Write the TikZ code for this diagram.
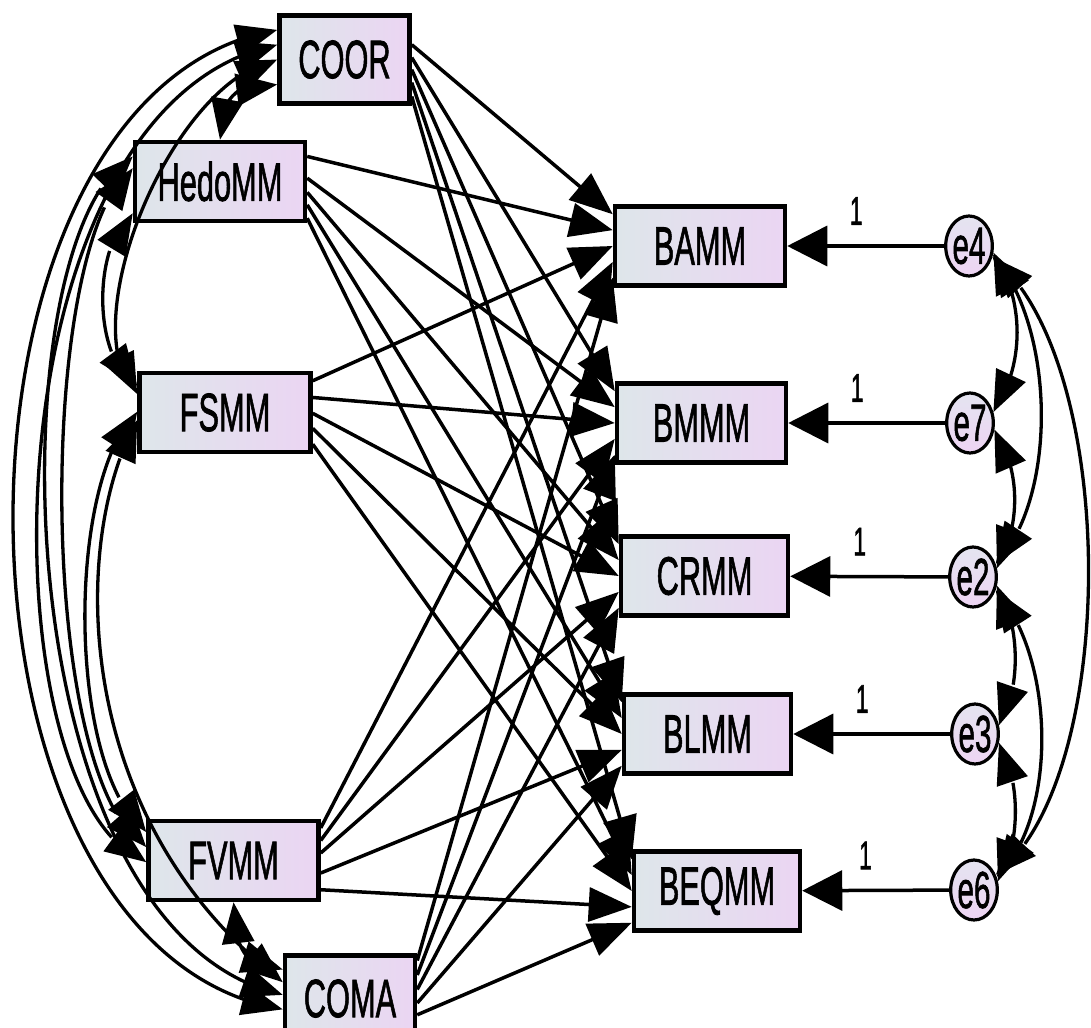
\documentclass[tikz,border=0pt]{standalone}
\usepackage{fontspec}
\setmainfont{Liberation Sans}
\newfontfamily\labelfont[FakeBold=1.6]{Liberation Sans}
\usepackage{graphicx}
\usetikzlibrary{arrows.meta,calc,bending,shapes.geometric}

\definecolor{boxL}{RGB}{222,230,234}
\definecolor{boxR}{RGB}{235,213,243}
\definecolor{errT}{RGB}{228,228,240}
\definecolor{errB}{RGB}{238,212,243}

% condensed lettering used throughout the diagram
\newcommand{\narrowtxt}[1]{\scalebox{0.57}[1]{#1}}
% points along the left and right edges of a box
\newcommand{\lft}[2]{($(#1.north west)!#2!(#1.south west)$)}
\newcommand{\rgt}[2]{($(#1.north east)!#2!(#1.south east)$)}

\begin{document}
\begin{tikzpicture}[x=1pt, y=-1pt,
  box/.style={rectangle, draw=black, line width=4.5pt, left color=boxL, right color=boxR,
    minimum width=170pt, minimum height=79pt, inner sep=0pt,
    font=\labelfont\fontsize{54}{60}\selectfont},
  errnode/.style={ellipse, draw=black, line width=3.2pt, top color=errT, bottom color=errB,
    minimum width=32pt, minimum height=60pt, inner sep=0pt,
    font=\labelfont\fontsize{52}{56}\selectfont},
  reg/.style={line width=3.5pt, -{Triangle[length=43pt,width=34pt]}},
  errpath/.style={line width=3.5pt, -{Triangle[length=40pt,width=40pt]}},
  cov/.style={line width=3.3pt, {Triangle[length=41pt,width=32pt]}-{Triangle[length=41pt,width=32pt]}},
  wlabel/.style={font=\labelfont\fontsize{40}{44}\selectfont, yshift=35pt, inner sep=0pt}
]
\fill[white] (0,0) rectangle (1091,1027);
\useasboundingbox (0,0) rectangle (1091,1027);

% exogenous observed variables
\node[box, minimum width=130pt, minimum height=88pt] (COOR) at (344.5,59.5) {\narrowtxt{COOR}};
\node[box] (HedoMM) at (220,181.5) {\narrowtxt{HedoMM}};
\node[box, minimum width=171pt] (FSMM) at (225,412.5) {\narrowtxt{FSMM}};
\node[box, minimum width=170pt] (FVMM) at (233.5,860.5) {\narrowtxt{FVMM}};
\node[box, minimum width=130pt, minimum height=86pt] (COMA) at (350,998.5) {\narrowtxt{COMA}};

% endogenous observed variables
\node[box] (BAMM) at (700,246) {\narrowtxt{BAMM}};
\node[box, minimum width=169pt] (BMMM) at (701.5,423) {\narrowtxt{BMMM}};
\node[box, minimum width=167pt] (CRMM) at (704.5,576) {\narrowtxt{CRMM}};
\node[box, minimum width=167pt] (BLMM) at (707.5,734) {\narrowtxt{BLMM}};
\node[box, minimum width=166pt] (BEQMM) at (717,891) {\narrowtxt{BEQMM}};

% error terms
\node[errnode] (e4) at (969,246) {\narrowtxt{e4}};
\node[errnode] (e7) at (970,423) {\narrowtxt{e7}};
\node[errnode] (e2) at (973,577) {\narrowtxt{e2}};
\node[errnode] (e3) at (975,734) {\narrowtxt{e3}};
\node[errnode] (e6) at (974,890) {\narrowtxt{e6}};

% regression paths
\draw[reg] \rgt{COOR}{.34} -- \lft{BAMM}{.12};
\draw[reg] \rgt{COOR}{.48} -- \lft{BMMM}{.12};
\draw[reg] \rgt{COOR}{.61} -- \lft{CRMM}{.12};
\draw[reg] \rgt{COOR}{.75} -- \lft{BLMM}{.12};
\draw[reg] \rgt{COOR}{.90} -- \lft{BEQMM}{.12};

\draw[reg] \rgt{HedoMM}{.20} -- \lft{BAMM}{.31};
\draw[reg] \rgt{HedoMM}{.46} -- \lft{BMMM}{.31};
\draw[reg] \rgt{HedoMM}{.63} -- \lft{CRMM}{.31};
\draw[reg] \rgt{HedoMM}{.78} -- \lft{BLMM}{.31};
\draw[reg] \rgt{HedoMM}{.94} -- \lft{BEQMM}{.31};

\draw[reg] \rgt{FSMM}{.12} -- \lft{BAMM}{.50};
\draw[reg] \rgt{FSMM}{.32} -- \lft{BMMM}{.50};
\draw[reg] \rgt{FSMM}{.51} -- \lft{CRMM}{.50};
\draw[reg] \rgt{FSMM}{.69} -- \lft{BLMM}{.50};
\draw[reg] \rgt{FSMM}{.88} -- \lft{BEQMM}{.50};

\draw[reg] \rgt{FVMM}{.11} -- \lft{BAMM}{.69};
\draw[reg] \rgt{FVMM}{.26} -- \lft{BMMM}{.69};
\draw[reg] \rgt{FVMM}{.41} -- \lft{CRMM}{.69};
\draw[reg] \rgt{FVMM}{.65} -- \lft{BLMM}{.69};
\draw[reg] \rgt{FVMM}{.85} -- \lft{BEQMM}{.69};

\draw[reg] \rgt{COMA}{.08} -- \lft{BAMM}{.88};
\draw[reg] \rgt{COMA}{.24} -- \lft{BMMM}{.88};
\draw[reg] \rgt{COMA}{.40} -- \lft{CRMM}{.88};
\draw[reg] \rgt{COMA}{.55} -- \lft{BLMM}{.88};
\draw[reg] \rgt{COMA}{.68} -- \lft{BEQMM}{.88};

% covariances among the exogenous variables
\draw[cov] \lft{COOR}{.18} .. controls (-76,90) and (-76,950) .. \lft{COMA}{.62};
\draw[cov] \lft{COOR}{.34} .. controls (-17,105) and (-17,800) .. \lft{FVMM}{.52};
\draw[cov] \lft{COOR}{.50} .. controls (170,80) and (70,330) .. \lft{FSMM}{.28};
\draw[cov] (HedoMM.north) .. controls (218,95) and (245,78) .. \lft{COOR}{.77};
\draw[cov] \lft{HedoMM}{.20} .. controls (-3,230) and (-3,930) .. \lft{COMA}{.46};
\draw[cov] \lft{HedoMM}{.34} .. controls (36,240) and (36,780) .. \lft{FVMM}{.34};
\draw[cov] \lft{HedoMM}{.88} .. controls (92,245) and (92,360) .. \lft{FSMM}{.18};
\draw[cov] \lft{FSMM}{.59} .. controls (70,540) and (70,820) .. \lft{COMA}{.32};
\draw[cov] \lft{FSMM}{.49} .. controls (66,480) and (66,770) .. \lft{FVMM}{.16};
\draw[cov] (FVMM.south) .. controls (233,950) and (250,972) .. \lft{COMA}{.18};

% error paths with fixed weights
\draw[errpath] (e4) -- node[wlabel, pos=0.56] {\narrowtxt{1}} (BAMM);
\draw[errpath] (e7) -- node[wlabel, pos=0.56] {\narrowtxt{1}} (BMMM);
\draw[errpath] (e2) -- node[wlabel, pos=0.56] {\narrowtxt{1}} (CRMM);
\draw[errpath] (e3) -- node[wlabel, pos=0.56] {\narrowtxt{1}} (BLMM);
\draw[errpath] (e6) -- node[wlabel, pos=0.57] {\narrowtxt{1}} (BEQMM);

% covariances among the error terms
\draw[cov] (e4.-15) .. controls (1025,300) and (1025,365) .. (e7.25);
\draw[cov] (e4.-20) .. controls (1057,330) and (1057,500) .. (e2.30);
\draw[cov] (e4.-25) .. controls (1120,360) and (1120,780) .. (e6.35);
\draw[cov] (e7.-15) .. controls (1021,470) and (1021,525) .. (e2.20);
\draw[cov] (e2.-20) .. controls (1021,625) and (1021,690) .. (e3.20);
\draw[cov] (e2.-30) .. controls (1057,660) and (1057,820) .. (e6.30);
\draw[cov] (e3.-20) .. controls (1021,780) and (1021,845) .. (e6.20);
\end{tikzpicture}
\end{document}
